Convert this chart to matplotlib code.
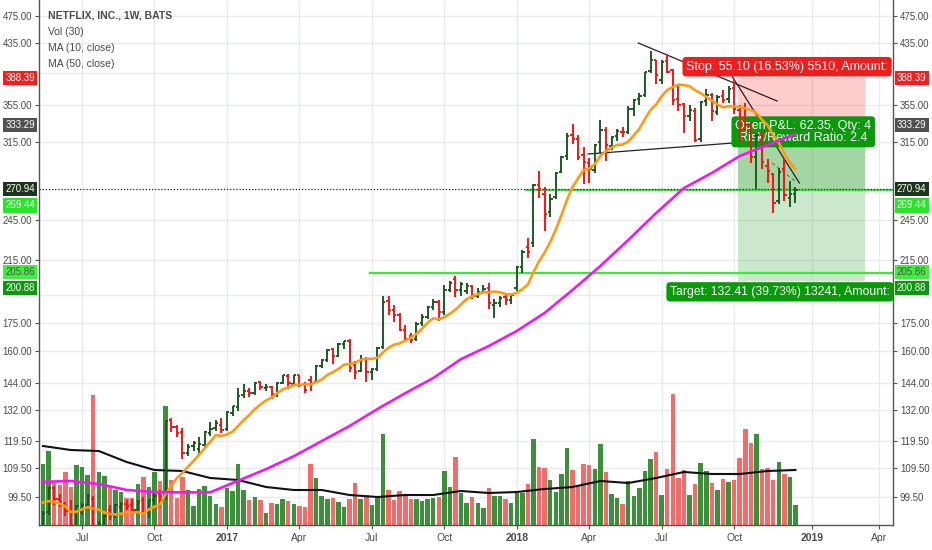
import numpy as np
import pandas as pd
import matplotlib
matplotlib.use("Agg")
import matplotlib.pyplot as plt
import matplotlib.transforms as mtransforms
from matplotlib.collections import LineCollection
from matplotlib.patches import Rectangle
from matplotlib.ticker import FixedLocator, FuncFormatter, NullLocator, NullFormatter

plt.rcParams['font.family'] = ['Liberation Sans', 'DejaVu Sans']

# NFLX weekly bars (BATS), first bar = week of 2016-05-16
weeks = pd.date_range('2016-05-16', periods=136, freq='W-MON')

opens = [90.5, 94.8, 102.7, 99.0, 97.5, 95.5, 90.5, 95.0, 97.0, 99.0,
         86.0, 91.0, 95.5, 93.5, 96.5, 97.5, 97.0, 95.5, 98.5, 95.0,
         98.5, 100.5, 99.8, 128.0, 124.8, 123.0, 114.8, 117.5, 116.5, 118.0,
         122.5, 124.5, 126.0, 124.0, 131.0, 133.5, 138.5, 140.5, 139.5, 144.5,
         142.0, 142.5, 139.0, 144.0, 147.5, 143.5, 147.8, 143.5, 145.5, 144.5,
         152.5, 155.5, 161.0, 157.5, 163.5, 165.0, 153.0, 150.0, 156.0, 149.5,
         151.0, 162.0, 188.0, 183.0, 180.0, 171.5, 168.0, 166.5, 175.0, 178.5,
         184.5, 187.5, 181.5, 195.0, 202.0, 195.0, 194.5, 197.5, 191.0, 194.0,
         196.0, 185.5, 187.0, 190.5, 188.5, 196.0, 210.0, 224.0, 227.0, 274.0,
         266.0, 251.0, 264.0, 286.0, 301.0, 323.0, 318.0, 302.0, 294.0, 288.0,
         315.0, 328.0, 311.0, 321.0, 326.0, 326.0, 351.0, 363.0, 367.0, 397.0,
         411.0, 385.0, 410.0, 398.0, 362.0, 357.0, 343.0, 349.0, 318.0, 360.0,
         367.0, 347.0, 366.0, 362.0, 376.0, 350.0, 338.0, 333.0, 300.0, 323.0,
         292.0, 284.0, 260.0, 289.0, 263.0, 266.0]
highs = [95.2, 103.0, 103.2, 100.5, 98.0, 98.5, 97.0, 97.6, 100.5, 100.0,
         92.0, 94.0, 97.0, 97.5, 98.0, 98.5, 99.0, 98.5, 99.5, 99.0,
         101.0, 102.0, 128.0, 128.5, 126.0, 124.5, 118.2, 119.5, 121.0, 123.5,
         127.0, 128.0, 128.5, 131.5, 134.0, 142.0, 143.5, 142.0, 144.5, 145.0,
         143.5, 143.0, 144.5, 148.0, 148.5, 148.0, 148.0, 144.5, 147.5, 153.0,
         156.0, 161.0, 161.5, 164.0, 165.5, 166.5, 155.0, 158.0, 157.0, 151.5,
         162.0, 191.0, 191.5, 185.5, 181.0, 174.0, 169.5, 175.5, 180.5, 185.0,
         189.5, 188.5, 198.0, 200.5, 204.0, 200.0, 199.5, 198.0, 196.0, 198.0,
         199.5, 189.5, 191.0, 192.0, 192.5, 210.5, 222.0, 230.5, 275.0, 286.8,
         272.0, 266.0, 286.0, 301.0, 325.0, 333.9, 322.0, 310.0, 299.0, 313.0,
         338.8, 331.0, 321.0, 329.0, 331.0, 354.0, 363.0, 369.0, 396.0, 423.2,
         412.0, 411.0, 419.8, 400.0, 378.0, 358.0, 356.0, 352.0, 360.0, 374.5,
         369.0, 367.0, 373.0, 378.0, 386.8, 355.0, 358.0, 336.0, 325.0, 327.0,
         298.0, 285.0, 290.0, 298.7, 278.0, 272.0]
lows = [89.8, 94.0, 97.0, 96.5, 93.5, 89.0, 89.5, 93.8, 96.0, 84.5,
        85.5, 89.5, 92.5, 93.0, 95.0, 95.5, 94.5, 94.5, 94.0, 93.0,
        97.0, 96.5, 98.5, 123.0, 121.0, 112.5, 113.8, 115.5, 114.5, 117.0,
        121.5, 123.5, 122.5, 123.5, 129.5, 131.5, 137.5, 138.0, 138.5, 141.0,
        140.5, 137.0, 138.0, 143.5, 141.5, 143.0, 142.5, 139.5, 140.5, 144.0,
        151.5, 154.5, 153.5, 157.0, 161.0, 149.5, 146.0, 149.5, 144.5, 145.5,
        150.0, 161.0, 180.0, 176.0, 170.5, 165.5, 164.0, 165.5, 173.5, 177.5,
        183.0, 176.5, 180.0, 193.5, 190.5, 191.0, 192.5, 189.5, 190.0, 193.0,
        183.5, 178.0, 184.5, 186.0, 186.5, 194.5, 206.0, 216.5, 224.0, 263.0,
        236.0, 247.0, 262.0, 285.0, 297.0, 313.0, 297.0, 275.0, 275.9, 285.0,
        303.0, 296.0, 307.0, 316.0, 320.0, 324.0, 343.0, 355.0, 365.0, 395.0,
        380.0, 381.0, 395.0, 356.0, 349.0, 325.0, 338.0, 315.0, 315.0, 354.0,
        338.0, 344.0, 358.0, 358.0, 345.0, 315.0, 327.0, 294.0, 271.0, 289.0,
        276.0, 250.0, 258.0, 260.0, 255.0, 259.0]
closes = [94.5, 102.6, 98.8, 98.0, 95.3, 91.0, 96.7, 96.9, 99.8, 85.8,
          91.3, 93.7, 93.5, 97.0, 97.3, 96.6, 95.5, 97.9, 95.0, 98.6,
          100.0, 99.8, 127.5, 124.9, 122.6, 115.0, 117.0, 118.8, 118.2, 123.0,
          124.2, 126.5, 123.8, 131.1, 133.7, 138.4, 140.7, 139.5, 144.0, 142.2,
          142.5, 139.0, 144.0, 147.9, 144.0, 147.8, 143.3, 141.0, 143.5, 152.2,
          155.6, 160.5, 157.5, 163.5, 165.0, 151.5, 149.5, 155.5, 149.4, 151.0,
          161.5, 187.6, 182.5, 179.6, 171.5, 166.5, 166.0, 174.8, 178.5, 184.5,
          187.5, 181.4, 195.1, 199.5, 195.2, 199.0, 197.5, 191.0, 193.6, 195.8,
          186.8, 187.0, 190.0, 188.8, 192.0, 210.0, 220.3, 220.5, 274.5, 270.3,
          249.5, 262.0, 285.0, 300.0, 321.3, 318.5, 300.7, 295.4, 288.9, 311.7,
          327.8, 311.7, 320.1, 326.3, 325.2, 351.3, 361.8, 366.2, 395.8, 411.1,
          391.4, 408.2, 395.8, 361.1, 356.0, 343.4, 349.7, 316.8, 358.8, 367.7,
          348.4, 364.6, 361.2, 374.1, 351.4, 339.6, 332.7, 299.8, 322.9, 295.0,
          286.8, 258.8, 286.1, 265.1, 266.4, 269.44]
volumes = [61, 74, 42, 40, 53, 38, 60, 58, 50, 130,
           53, 49, 39, 35, 33, 27, 27, 41, 48, 38,
           53, 44, 119, 45, 27, 48, 35, 19, 36, 39,
           29, 21, 18, 37, 34, 61, 35, 25, 28, 25,
           12, 22, 21, 26, 24, 21, 19, 18, 61, 47,
           29, 26, 27, 23, 18, 26, 42, 26, 30, 20,
           29, 91, 35, 25, 34, 31, 26, 26, 24, 26,
           27, 28, 54, 38, 68, 32, 22, 28, 22, 17,
           37, 29, 29, 26, 22, 32, 32, 41, 86, 58,
           57, 45, 33, 51, 77, 55, 39, 61, 60, 56,
           81, 53, 31, 27, 21, 44, 29, 37, 54, 66,
           73, 30, 56, 131, 47, 55, 30, 41, 62, 54,
           42, 35, 46, 43, 45, 67, 96, 82, 91, 56,
           57, 45, 63, 51, 48, 20]
# closes of the 9 weeks before the first bar (for the 10-week MA)
pre_closes = [98.0, 101.5, 103.0, 104.5, 108.5, 95.5, 90.0, 92.5, 90.3]

# MA(50) and Vol MA(30) every 5 bars
ma_idx = list(range(0, 136, 5))
ma50 = [104.6, 104.9, 103.9, 101.9, 101.2, 101.1, 101.1, 105.0, 109.0, 113.7,
        119.4, 125.4, 132.5, 139.5, 146.5, 155.8, 162.6, 170.7, 181.0, 195.0,
        210.8, 229.3, 250.3, 271.5, 285.1, 301.2, 312.2, 323.5]
vol_ma30 = [79, 75, 74, 63, 55, 54, 47, 45, 38, 35, 35, 30, 28, 30,
            30, 34, 32, 33, 36, 38, 44, 42, 47, 53, 51, 51, 54, 55]

# short position tool
entry, stop, target, last = 333.29, 388.39, 200.88, 270.94
hline_205, hline_269 = 205.86, 269.44

# drawn trend lines: (bar, price) pairs
trend_lines = [((106.8, 434.7), (131.7, 360.1)),
               ((97.8, 303.2), (123.8, 314.2)),
               ((123.6, 390.5), (135.7, 276.0))]
dash_line = ((130.8, 294.5), (134.9, 277.8))

price_ticks = [99.5, 109.5, 119.5, 132, 144, 160, 175, 215, 245, 315, 355, 435, 475]
grid_only = [192, 395]

up_col, dn_col = '#1d5a22', '#ff1010'
vup_col, vdn_col = '#3a913a', '#f66a6a'
grid_col = '#e9ebef'
txt_col = '#4a4a4a'

fig = plt.figure(figsize=(9.32, 5.5), dpi=100)
fig.patch.set_facecolor('white')
ax = fig.add_axes([39 / 932, 25 / 550, 854 / 932, 525 / 550])
ax2 = ax.twinx()
ax.set_zorder(2)
ax2.set_zorder(1)
ax.patch.set_visible(False)

x = np.arange(len(closes))
ax.set_yscale('log')
ax.set_ylim(90.94, 499.8)
ax.set_xlim(-0.72, 152.5)
ax2.set_ylim(0, 525)

# grid (on the lower axes so it sits under everything)
gtr = mtransforms.blended_transform_factory(ax2.transAxes, ax.transData)
for p in price_ticks + grid_only:
    ax2.plot([0, 1], [p, p], transform=gtr, color=grid_col, lw=1, zorder=0)

# x ticks: first bar of each quarter
cal = pd.date_range(weeks[0], periods=153, freq='W-MON')
tick_pos, tick_lab, tick_year = [], [], []
for i in range(1, len(cal)):
    d = cal[i]
    if d.month in (1, 4, 7, 10) and d.month != cal[i - 1].month:
        tick_pos.append(i)
        tick_lab.append(str(d.year) if d.month == 1 else d.strftime('%b'))
        tick_year.append(d.month == 1)
for t in tick_pos:
    ax2.axvline(t, color=grid_col, lw=1, zorder=0)

# volume
vcols = [vup_col if c >= o else vdn_col for o, c in zip(opens, closes)]
ax2.bar(x, volumes, width=0.8, color=vcols, zorder=1)
ax2.plot(ma_idx, vol_ma30, color='#111111', lw=1.5, zorder=2)
ax2.yaxis.set_visible(False)
for s in ax2.spines.values():
    s.set_visible(False)

# position tool zones
zx0, zx1 = 124.7, 147.5
ax.add_patch(Rectangle((zx0, entry), zx1 - zx0, stop - entry, fc=(1, 0, 0, 0.2), ec='none', zorder=1))
ax.add_patch(Rectangle((zx0, target), zx1 - zx0, entry - target, fc=(0.1, 0.6, 0.1, 0.22), ec='none', zorder=1))
ax.add_patch(Rectangle((zx0, last), zx1 - zx0, entry - last, fc=(0.1, 0.6, 0.1, 0.22), ec='none', zorder=1))

# horizontal lines
xr = ax.get_xlim()[1]
ax.plot([58.7, xr], [hline_205] * 2, color='#3ee63e', lw=1.6, zorder=2)
ax.plot([86.7, xr], [hline_269] * 2, color='#3ee63e', lw=1.6, zorder=2)
ax.axhline(last, color='#222222', lw=0.9, ls=(0, (1, 1.5)), zorder=2)

for (a, b) in trend_lines:
    ax.plot([a[0], b[0]], [a[1], b[1]], color='#222222', lw=0.9, zorder=2.5)
ax.plot([dash_line[0][0], dash_line[1][0]], [dash_line[0][1], dash_line[1][1]],
        color='#777777', lw=0.9, ls=(0, (3, 2)), zorder=2.5)

# position labels
ax.annotate('Stop: 55.10 (16.53%) 5510, Amount:', xy=(115.4, stop), xytext=(0, 11),
            textcoords='offset pixels', ha='left', va='center', color='white', fontsize=9,
            bbox=dict(boxstyle='round,pad=0.3', fc='#f11d1d', ec='none'), clip_on=True, zorder=3)
ax.annotate('Target: 132.41 (39.73%) 13241, Amount:', xy=(112.5, target), xytext=(0, -11),
            textcoords='offset pixels', ha='left', va='center', color='white', fontsize=8.8,
            bbox=dict(boxstyle='round,pad=0.3', fc='#089a08', ec='none'), clip_on=True, zorder=3)
ax.annotate('Open P&L: 62.35, Qty: 4\nRisk/Reward Ratio: 2.4', xy=(136.4, entry), xytext=(0, -7),
            textcoords='offset pixels', ha='center', va='center', color='white', fontsize=9,
            linespacing=0.95,
            bbox=dict(boxstyle='round,pad=0.3', fc='#089a08', ec='none'), zorder=3)

# OHLC bars
segs, cols = [], []
for i, (o, h, l, c) in enumerate(zip(opens, highs, lows, closes)):
    col = up_col if c >= o else dn_col
    segs += [[(i, l), (i, h)], [(i - 0.42, o), (i, o)], [(i, c), (i + 0.42, c)]]
    cols += [col] * 3
ax.add_collection(LineCollection(segs, colors=cols, linewidths=1.4, zorder=4, capstyle='butt'))

# moving averages
ma10 = pd.Series(pre_closes + closes).rolling(10).mean().to_numpy()[len(pre_closes):]
ax.plot(x, ma10, color='#ff9a14', lw=1.9, zorder=5)
ax.plot(ma_idx, ma50, color='#f514f5', lw=1.9, zorder=5)

# axes styling
for side in ('left', 'right', 'bottom'):
    ax.spines[side].set_color('#555555')
    ax.spines[side].set_linewidth(1)
ax.spines['top'].set_visible(False)
ax.yaxis.set_major_locator(FixedLocator(price_ticks))
ax.yaxis.set_major_formatter(FuncFormatter(lambda v, p: f'{v:.2f}'))
ax.yaxis.set_minor_locator(NullLocator())
ax.yaxis.set_minor_formatter(NullFormatter())
ax.tick_params(axis='y', which='major', left=True, right=True, labelleft=True, labelright=True,
               length=3, width=0.8, color='#555555', labelsize=7, labelcolor=txt_col, pad=2)
ax.set_xticks(tick_pos)
ax.set_xticklabels(tick_lab)
ax.tick_params(axis='x', length=3, width=0.8, color='#555555', labelsize=7.5, labelcolor=txt_col, pad=3)
for lab, yr in zip(ax.get_xticklabels(), tick_year):
    if yr:
        lab.set_fontweight('bold')


def price_tag(value, text, fc, tc='white', dy=0):
    for side in (0, 1):
        ax.annotate(text, xy=(side, value), xycoords=('axes fraction', 'data'),
                    xytext=(-4 if side == 0 else 4, dy), textcoords='offset pixels',
                    ha='right' if side == 0 else 'left', va='center', fontsize=7, color=tc,
                    bbox=dict(boxstyle='square,pad=0.22', fc=fc, ec='none'),
                    annotation_clip=False, zorder=6)


price_tag(stop, '388.39', '#ff1a1a')
price_tag(entry, '333.29', '#505050')
price_tag(last, '270.94', '#1c331c')
price_tag(hline_269, '269.44', '#27e627', dy=-15)
price_tag(hline_205, '205.86', '#3cf03c', tc='#4d4d4d', dy=1)
price_tag(target, '200.88', '#089a08', dy=-7)

# legend
legend_lines = [('NETFLIX, INC., 1W, BATS', 'bold'), ('Vol (30)', 'normal'),
                ('MA (10, close)', 'normal'), ('MA (50, close)', 'normal')]
for k, (s, w) in enumerate(legend_lines):
    ax.text(0.0105, 1 - (16 + 16 * k) / 525, s, transform=ax.transAxes, fontsize=7.5,
            fontweight=w, color=txt_col, va='center', ha='left', zorder=7)

fig.savefig('out.png', dpi=100)
